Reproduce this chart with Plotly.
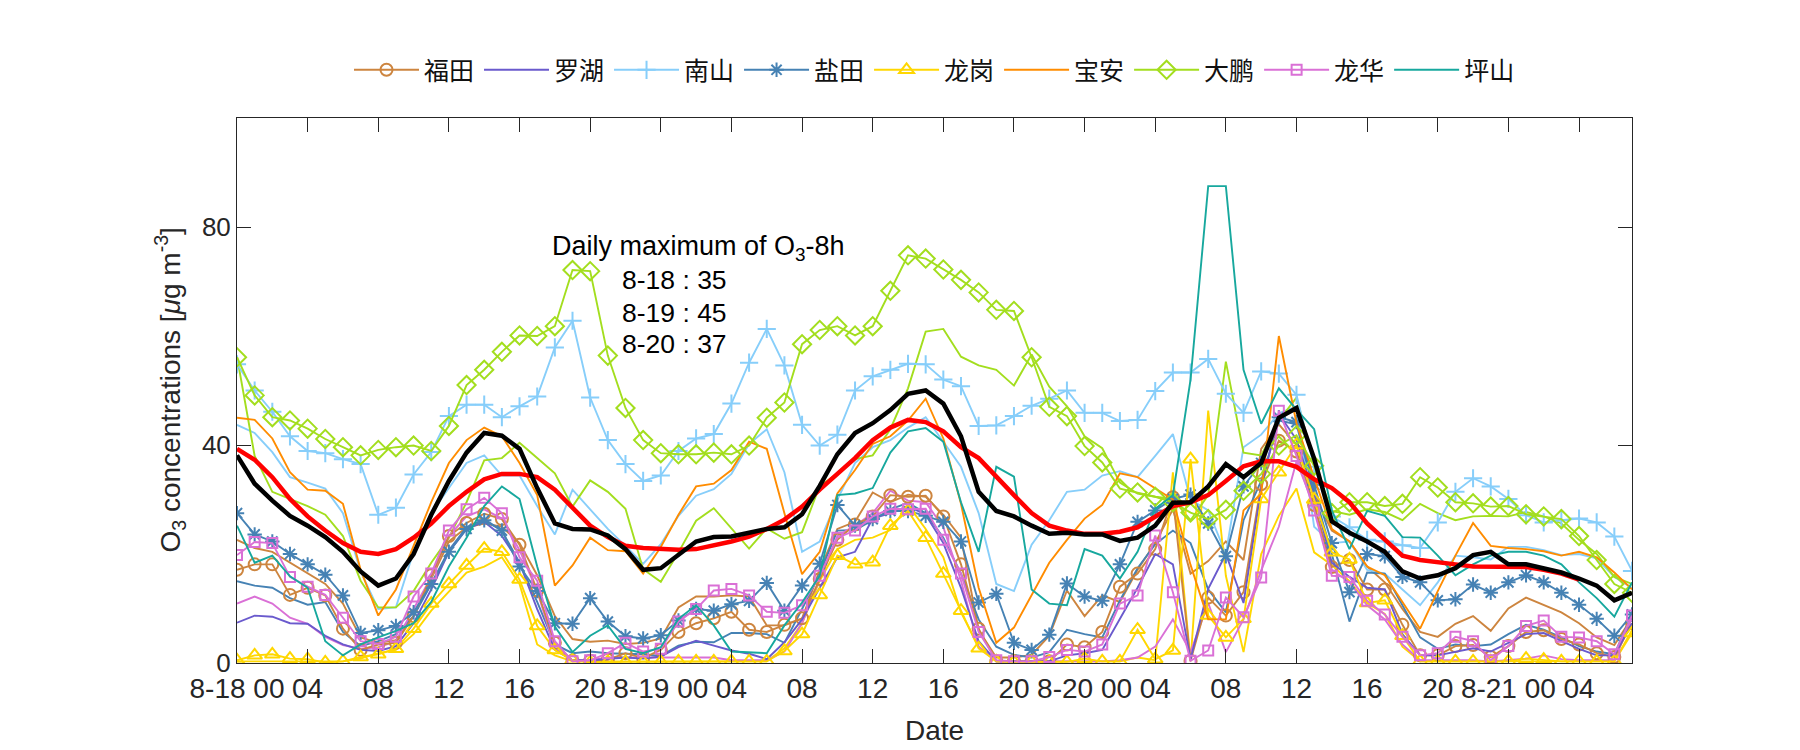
import plotly.graph_objects as go

hours = list(range(80))
tick_vals = list(range(0, 80, 4))
tick_text = ["8-18 00", "04", "08", "12", "16", "20",
             "8-19 00", "04", "08", "12", "16", "20",
             "8-20 00", "04", "08", "12", "16", "20",
             "8-21 00", "04"]

futian = [17.1, 18.1, 18.1, 12.5, 13.8, 12.4, 6.3, 2.4, 3.4, 3.7, 8.6, 16.1, 23.3, 25.7, 27.4, 26.4, 21.7, 13.3, 3.7, 0.4, 0.4,
          0.6, 1.8, 0.9, 2.4, 5.7, 7.3, 8.2, 9.4, 6.1, 5.7, 7.0, 8.2, 15.4, 22.6, 25.4, 26.9, 30.8, 30.5, 30.7, 26.9, 18.1,
          6.3, 0.3, 0.3, 0.3, 0.3, 3.4, 2.9, 5.7, 14.0, 16.4, 20.9, 30.4, 0.4, 12.0, 8.7, 13.0, 32.8, 40.8, 38.8,
          29.0, 17.6, 18.9, 13.5, 13.5, 7.0, 1.4, 1.4, 3.1, 3.3, 1.1, 3.1, 5.7, 6.0, 4.4, 3.4, 1.8, 1.1, 7.3]
luohu = [7.4, 8.7, 8.5, 7.3, 7.2, 5.0, 3.4, 2.4, 2.2, 3.1, 7.3, 13.5, 20.4, 24.6, 25.9, 23.3, 18.4, 9.9, 2.4, 0.5, 0.5,
         0.7, 1.0, 0.8, 1.2, 2.9, 4.1, 3.2, 2.3, 1.7, 0.7, 3.8, 8.0, 13.8, 19.4, 20.4, 26.5, 27.5, 28.8, 27.2, 22.0, 13.8,
         4.0, 0.3, 0.3, 0.3, 0.3, 1.4, 1.8, 2.4, 8.0, 13.8, 20.0, 18.1, 0.7, 13.6, 20.0, 11.0, 32.0, 45.7, 41.0,
         30.8, 18.4, 15.8, 13.8, 13.5, 5.3, 1.4, 1.4, 2.1, 2.7, 2.1, 3.7, 5.3, 5.5, 4.0, 2.6, 1.4, 1.4, 7.3]
nanshan = [54.8, 50.0, 46.1, 41.6, 38.9, 38.5, 37.4, 36.5, 27.2, 28.5, 34.6, 38.7, 45.3, 47.4, 47.4, 45.1, 47.1, 48.9, 57.9, 62.8, 48.7,
           40.9, 36.5, 33.4, 34.4, 38.9, 41.2, 42.0, 47.6, 55.1, 61.3, 54.6, 43.7, 39.9, 41.9, 50.0, 52.6, 53.8, 54.9, 54.8, 52.0, 50.8,
           43.5, 43.6, 45.3, 47.2, 48.5, 50.0, 45.9, 45.9, 44.4, 44.6, 49.9, 53.3, 53.3, 55.8, 49.4, 45.9, 53.5, 53.1, 49.2,
           36.0, 26.9, 24.9, 22.6, 22.3, 21.6, 21.1, 25.8, 31.4, 33.9, 32.4, 30.1, 27.1, 25.8, 26.2, 26.5, 25.8, 23.2, 16.9]
yantian = [27.5, 23.6, 22.3, 20.0, 18.1, 16.2, 12.4, 5.5, 6.0, 6.8, 9.3, 14.5, 20.4, 24.6, 26.2, 24.3, 17.7, 13.2, 7.3, 7.2, 11.9,
           7.6, 4.9, 4.5, 5.1, 7.8, 9.9, 9.6, 10.8, 11.4, 14.7, 9.6, 14.2, 18.2, 29.0, 25.2, 26.4, 27.9, 27.9, 27.0, 25.9, 22.3,
           11.1, 12.7, 3.7, 2.4, 5.2, 14.6, 12.2, 11.4, 18.1, 25.9, 28.0, 30.1, 30.9, 25.6, 19.6, 32.4, 36.7, 45.1, 44.2,
           32.7, 22.0, 13.0, 20.0, 19.6, 15.8, 14.8, 11.5, 11.7, 14.4, 12.9, 14.8, 16.1, 14.8, 12.9, 10.7, 8.1, 5.0, 8.9]
longgang = [0.5, 1.4, 1.6, 0.8, 0.7, 0.1, 0.3, 1.1, 1.6, 2.6, 6.3, 10.9, 14.5, 17.9, 21.0, 20.4, 15.3, 6.8, 2.4, 0.5, 0.1,
            0.2, 0.2, 0.2, 0.2, 0.3, 0.3, 0.3, 0.3, 0.3, 0.3, 2.2, 5.3, 12.5, 19.7, 18.1, 18.5, 25.2, 27.9, 23.0, 16.4, 9.6,
            2.7, 0.3, 0.2, 0.2, 0.2, 0.2, 0.8, 0.3, 0.3, 6.1, 0.7, 2.3, 37.4, 8.7, 4.7, 8.1, 30.1, 35.0, 40.0,
            30.0, 20.3, 19.0, 11.0, 11.5, 5.0, 0.3, 0.3, 0.3, 0.3, 0.3, 0.3, 0.8, 0.6, 0.3, 0.3, 0.3, 0.3, 5.5]
baoan = [45.0, 44.6, 41.2, 35.0, 31.8, 31.6, 29.2, 17.1, 8.7, 13.5, 21.5, 29.5, 36.7, 40.9, 43.2, 41.6, 36.7, 30.8, 14.2, 17.9, 23.0,
         20.7, 20.5, 16.4, 21.3, 27.2, 32.4, 32.9, 35.4, 40.6, 39.3, 27.5, 16.3, 20.4, 31.1, 35.4, 40.2, 41.6, 44.5, 48.5, 41.2, 29.2,
         13.8, 3.7, 6.5, 12.5, 18.4, 22.6, 26.5, 29.0, 34.8, 34.1, 32.1, 30.0, 18.0, 8.0, 8.0, 28.0, 31.0, 60.0, 44.0,
         34.0, 24.6, 22.3, 17.7, 16.1, 11.2, 6.3, 13.2, 19.7, 25.7, 21.5, 21.1, 20.9, 20.5, 19.7, 20.4, 19.4, 16.6, 13.5]
dapeng = [56.1, 49.1, 45.1, 44.5, 43.0, 41.1, 39.6, 38.1, 39.1, 39.6, 39.9, 38.9, 43.5, 51.0, 53.8, 57.1, 60.1, 60.0, 61.8, 72.1, 71.9,
          56.4, 46.8, 40.9, 38.5, 38.3, 38.3, 38.6, 38.3, 39.9, 45.0, 47.8, 58.5, 61.1, 61.8, 60.1, 61.8, 68.3, 74.8, 74.2, 72.2, 70.3,
          68.0, 64.8, 64.6, 56.1, 47.0, 45.3, 39.8, 36.8, 32.0, 31.3, 30.5, 29.5, 27.6, 26.4, 28.1, 31.6, 34.7, 39.9, 41.8,
          36.2, 27.5, 29.5, 29.5, 28.8, 29.2, 34.1, 32.2, 29.5, 29.3, 28.7, 28.8, 27.3, 26.9, 26.4, 23.3, 18.9, 14.5, 12.9]
longhua = [19.8, 22.2, 22.0, 15.8, 14.0, 12.5, 8.3, 4.0, 3.5, 4.8, 12.2, 16.4, 24.3, 28.2, 30.3, 27.5, 19.4, 15.1, 4.0, 0.3, 0.5,
           1.8, 3.7, 2.1, 2.6, 7.6, 9.9, 13.3, 13.6, 12.4, 9.4, 9.2, 10.6, 16.0, 23.0, 24.3, 26.9, 28.3, 28.2, 28.3, 22.6, 16.4,
           5.7, 0.5, 0.3, 0.3, 1.1, 2.4, 2.1, 3.4, 10.9, 12.4, 23.4, 13.0, 0.4, 2.3, 12.0, 8.4, 15.7, 46.3, 38.0,
           28.0, 16.0, 15.8, 11.4, 8.9, 4.8, 1.4, 1.8, 4.8, 4.0, 0.5, 3.1, 6.8, 7.8, 4.8, 4.7, 4.0, 1.6, 8.7]
pingshan = [25.2, 18.4, 19.7, 15.9, 13.8, 4.0, 1.4, 3.4, 4.7, 5.9, 7.3, 11.2, 17.7, 23.0, 28.8, 32.4, 30.1, 17.7, 6.7, 2.0, 5.0,
            6.9, 2.6, 1.8, 2.9, 8.1, 10.6, 6.9, 2.1, 2.0, 1.8, 6.9, 11.1, 16.0, 30.8, 31.1, 32.1, 38.6, 42.5, 43.1, 40.6, 29.5,
            20.4, 36.0, 34.2, 13.5, 10.9, 10.6, 20.9, 19.7, 15.5, 20.4, 28.3, 30.8, 52.0, 87.5, 87.5, 53.8, 43.9, 50.4, 46.5,
            42.9, 28.0, 20.9, 27.9, 27.0, 23.1, 23.0, 19.7, 16.1, 18.1, 19.7, 20.4, 20.4, 19.7, 18.1, 14.8, 11.9, 8.5, 14.8]

# second (unmarked) curves for the marked stations
futian_b = [22.6, 21.1, 20.4, 18.4, 16.4, 14.5, 10.9, 4.7, 3.7, 4.2, 8.6, 15.5, 22.3, 24.9, 25.6, 25.0, 22.0, 16.1, 8.6, 4.4, 3.9,
            4.1, 3.5, 3.7, 4.5, 10.2, 12.2, 12.2, 12.4, 12.2, 6.9, 6.9, 8.1, 17.1, 24.6, 25.9, 31.3, 29.5, 30.9, 30.5, 27.2, 23.0,
            6.0, 1.0, 1.0, 1.5, 5.0, 13.3, 8.6, 12.4, 11.2, 17.1, 22.0, 28.2, 16.4, 18.7, 22.3, 18.9, 39.3, 43.8, 40.0,
            30.8, 24.3, 22.3, 17.7, 14.8, 9.9, 5.7, 4.8, 7.2, 8.6, 5.9, 10.0, 12.0, 10.7, 9.3, 7.3, 4.7, 3.3, 8.3]
nanshan_b = [43.7, 42.2, 38.7, 34.1, 33.1, 32.0, 27.5, 16.8, 9.9, 10.2, 20.4, 27.5, 32.1, 36.7, 38.1, 34.4, 34.4, 28.8, 23.6, 31.8, 28.2,
             24.6, 21.5, 18.2, 21.8, 27.0, 30.7, 31.9, 34.7, 40.2, 42.9, 35.0, 20.4, 22.3, 30.0, 36.7, 39.6, 40.9, 43.2, 45.1, 40.6, 36.0,
             27.5, 14.5, 13.2, 21.7, 26.2, 31.4, 31.8, 34.4, 35.2, 34.1, 38.0, 42.0, 30.0, 28.0, 20.0, 39.6, 41.9, 45.8, 47.1,
             25.0, 22.0, 22.3, 17.1, 16.4, 13.5, 10.6, 14.8, 19.7, 19.4, 19.0, 21.3, 21.3, 20.7, 19.8, 20.0, 19.2, 15.8, 13.8]
yantian_b = [15.0, 14.2, 13.8, 11.9, 10.7, 11.2, 5.7, 3.1, 4.0, 5.3, 8.6, 14.5, 20.7, 24.9, 26.4, 24.3, 18.4, 11.2, 3.4, 1.8, 2.1,
             1.8, 1.7, 1.6, 1.3, 3.2, 3.9, 3.8, 5.5, 5.5, 5.3, 3.7, 9.9, 16.4, 24.3, 24.4, 26.2, 28.2, 29.4, 27.5, 23.0, 16.4,
             8.0, 3.0, 1.5, 1.0, 2.0, 6.1, 5.3, 4.7, 11.5, 17.4, 21.8, 24.3, 22.0, 13.5, 9.3, 26.2, 33.4, 44.5, 43.8,
             31.4, 20.0, 7.6, 16.6, 16.4, 10.6, 4.7, 2.6, 3.4, 3.1, 3.4, 5.3, 7.0, 6.1, 4.7, 3.1, 2.1, 1.6, 8.9]
longgang_b = [0.3, 0.3, 0.3, 0.3, 0.3, 0.3, 0.3, 0.8, 1.8, 2.4, 5.3, 9.6, 13.2, 16.6, 17.7, 19.4, 14.5, 3.4, 1.4, 0.3, 0.3,
              0.3, 0.3, 0.3, 0.3, 0.3, 0.3, 0.3, 0.3, 0.3, 0.3, 2.7, 7.3, 15.1, 20.9, 22.6, 23.0, 24.4, 29.0, 24.6, 19.4, 9.3,
              3.0, 0.3, 0.3, 0.3, 0.3, 0.3, 0.3, 0.3, 0.3, 1.0, 0.5, 35.0, 0.3, 46.3, 16.0, 2.0, 20.0, 27.0, 32.0,
              20.3, 18.0, 15.0, 11.0, 9.0, 3.0, 0.3, 0.3, 0.3, 0.3, 0.3, 0.3, 0.3, 0.3, 0.3, 0.3, 0.3, 0.3, 6.0]
dapeng_b = [56.2, 38.0, 31.4, 30.1, 28.8, 27.2, 23.3, 15.1, 10.2, 10.2, 13.2, 18.4, 23.0, 29.5, 37.2, 37.6, 40.4, 37.6, 34.8, 28.7, 33.5,
            31.4, 28.3, 17.2, 14.9, 20.3, 26.1, 28.4, 24.6, 21.0, 24.7, 22.8, 24.0, 32.5, 34.7, 37.4, 38.1, 42.9, 50.4, 60.8, 61.3, 56.2,
            54.6, 53.8, 50.9, 56.6, 50.7, 47.1, 41.6, 39.4, 33.1, 31.1, 30.5, 30.1, 26.2, 30.8, 55.3, 38.6, 38.1, 44.5, 48.7,
            36.7, 27.9, 27.2, 28.2, 27.7, 26.2, 29.2, 27.5, 26.2, 26.9, 27.0, 26.9, 27.7, 26.9, 25.6, 22.6, 20.0, 15.8, 14.5]
longhua_b = [10.9, 12.2, 10.9, 8.3, 7.2, 4.8, 3.3, 2.6, 2.9, 4.0, 9.9, 15.8, 23.3, 26.9, 28.2, 26.5, 20.7, 13.2, 2.7, 0.5, 0.5,
             1.0, 1.0, 1.0, 1.0, 1.1, 1.0, 1.0, 0.5, 0.5, 0.5, 2.1, 7.3, 15.5, 23.3, 25.2, 27.5, 31.6, 29.8, 29.5, 24.9, 15.1,
             3.0, 0.3, 0.3, 0.3, 0.3, 0.3, 0.3, 0.3, 0.5, 1.0, 3.0, 8.0, 2.0, 11.0, 2.0, 8.0, 17.0, 25.0, 37.0,
             28.8, 17.1, 14.8, 10.6, 8.0, 3.4, 0.5, 0.5, 0.5, 0.5, 0.3, 0.5, 0.8, 1.4, 0.7, 0.5, 0.5, 0.5, 8.3]

mean_all = [38.1, 32.9, 29.8, 27.0, 25.2, 23.1, 20.4, 16.8, 14.2, 15.5, 20.0, 27.2, 33.4, 38.6, 42.2, 41.7, 39.3, 32.1, 25.6, 24.6, 24.5,
            23.4, 20.9, 17.1, 17.4, 19.8, 22.3, 23.1, 23.2, 23.9, 24.6, 24.9, 27.3, 32.5, 38.3, 42.2, 44.0, 46.4, 49.4, 50.0, 47.6, 41.6,
            31.4, 27.9, 26.9, 25.2, 23.7, 23.9, 23.6, 23.6, 22.4, 23.0, 25.2, 29.4, 29.5, 32.4, 36.5, 34.1, 36.7, 45.0, 46.8,
            37.5, 26.0, 23.9, 22.3, 20.4, 16.8, 15.5, 16.1, 17.4, 19.8, 20.4, 18.1, 18.1, 17.4, 16.6, 15.5, 14.2, 11.5, 12.9]
mean_8h = [39.3, 37.3, 34.1, 30.1, 26.9, 24.3, 22.0, 20.4, 20.0, 20.9, 23.0, 25.6, 28.8, 31.4, 33.7, 34.7, 34.7, 34.1, 31.8, 28.4, 25.2,
           23.1, 21.5, 21.1, 20.9, 20.8, 20.9, 21.5, 22.3, 23.2, 24.6, 26.3, 28.7, 31.8, 34.7, 37.6, 40.9, 43.2, 44.6, 44.2, 42.5, 39.6,
           37.6, 34.1, 30.8, 27.5, 25.2, 24.3, 23.7, 23.7, 24.1, 24.9, 26.9, 28.8, 29.5, 30.8, 33.4, 36.1, 37.0, 37.0, 36.0,
           33.7, 32.1, 29.5, 25.6, 22.6, 19.7, 18.9, 18.4, 18.1, 17.7, 17.7, 17.7, 17.6, 17.1, 16.4, 15.3, None, None, None]

names = ["福田", "罗湖", "南山", "盐田", "龙岗", "宝安", "大鹏", "龙华", "坪山"]
colors = ["#CD853F", "#6A5ACD", "#87CEFA", "#4682B4", "#FFD700", "#FF8C00", "#A3DE1E", "#DA70D6", "#17A89E"]
symbols = ["circle-open", None, "cross-thin-open", "asterisk-open", "triangle-up-open", None, "diamond-open", "square-open", None]
msizes = [12, 0, 13, 12, 13, 0, 14, 10, 0]
series = [futian, luohu, nanshan, yantian, longgang, baoan, dapeng, longhua, pingshan]
extra = [(futian_b, 0), (nanshan_b, 2), (yantian_b, 3), (longgang_b, 4), (dapeng_b, 6), (longhua_b, 7)]

fig = go.Figure()
for vals, idx in extra:
    fig.add_trace(go.Scatter(x=hours, y=vals, mode="lines", showlegend=False, hoverinfo="skip",
                             line=dict(color=colors[idx], width=1.9)))
for i, name in enumerate(names):
    if symbols[i]:
        fig.add_trace(go.Scatter(x=hours, y=series[i], mode="lines+markers", name=name,
                                 line=dict(color=colors[i], width=1.9),
                                 marker=dict(symbol=symbols[i], size=msizes[i], color=colors[i],
                                             line=dict(width=2, color=colors[i]))))
    else:
        fig.add_trace(go.Scatter(x=hours, y=series[i], mode="lines", name=name,
                                 line=dict(color=colors[i], width=1.9)))
fig.add_trace(go.Scatter(x=hours, y=mean_8h, mode="lines", showlegend=False,
                         line=dict(color="#FF0000", width=4.5)))
fig.add_trace(go.Scatter(x=hours, y=mean_all, mode="lines", showlegend=False,
                         line=dict(color="#000000", width=4.5)))

axis_color = "#262626"
base_font = "Liberation Sans, Arial, sans-serif"
narrow_font = "Liberation Sans Narrow, Arial Narrow, Liberation Sans, sans-serif"

fig.update_layout(
    width=1800, height=750,
    margin=dict(l=229, r=176, t=110, b=95),
    paper_bgcolor="white", plot_bgcolor="white",
    showlegend=True,
    legend=dict(orientation="h", x=0.5, xanchor="center", y=1.088, yanchor="middle",
                font=dict(family="Noto Sans CJK SC", size=25, color="#111111"),
                itemwidth=65, bgcolor="rgba(0,0,0,0)"),
    xaxis=dict(range=[0, 79], tickmode="array", tickvals=tick_vals, ticktext=tick_text,
               ticks="inside", ticklen=14, tickcolor=axis_color, showline=True, linecolor=axis_color,
               linewidth=1, mirror="ticks", showgrid=False, zeroline=False,
               tickfont=dict(family=narrow_font, size=28, color=axis_color)),
    yaxis=dict(range=[0, 100], tickmode="array", tickvals=[0, 40, 80],
               ticks="inside", ticklen=14, tickcolor=axis_color, showline=True, linecolor=axis_color,
               linewidth=1, mirror="ticks", showgrid=False, zeroline=False,
               tickfont=dict(family=base_font, size=26, color=axis_color)),
    annotations=[
        dict(text="Date", xref="paper", yref="paper", x=0.5, y=0, yshift=-67, showarrow=False,
             xanchor="center", yanchor="middle", font=dict(family=narrow_font, size=28, color=axis_color)),
        dict(text="O<sub>3</sub> concentrations [<i>μ</i>g m<sup>-3</sup>]", xref="paper", yref="paper",
             x=0, y=0.5, xshift=-67, textangle=-90, showarrow=False, xanchor="center", yanchor="middle",
             font=dict(family=base_font, size=28, color=axis_color)),
        dict(text="Daily maximum of O<sub>3</sub>-8h", xref="x", yref="y", x=17.73, y=76.2,
             showarrow=False, xanchor="left", yanchor="middle", font=dict(family=base_font, size=27, color="black")),
        dict(text="8-18 : 35", xref="x", yref="y", x=21.7, y=70.3, showarrow=False, xanchor="left",
             yanchor="middle", font=dict(family=base_font, size=26.5, color="black")),
        dict(text="8-19 : 45", xref="x", yref="y", x=21.7, y=64.3, showarrow=False, xanchor="left",
             yanchor="middle", font=dict(family=base_font, size=26.5, color="black")),
        dict(text="8-20 : 37", xref="x", yref="y", x=21.7, y=58.6, showarrow=False, xanchor="left",
             yanchor="middle", font=dict(family=base_font, size=26.5, color="black")),
    ],
)

fig.write_html("out.html")
